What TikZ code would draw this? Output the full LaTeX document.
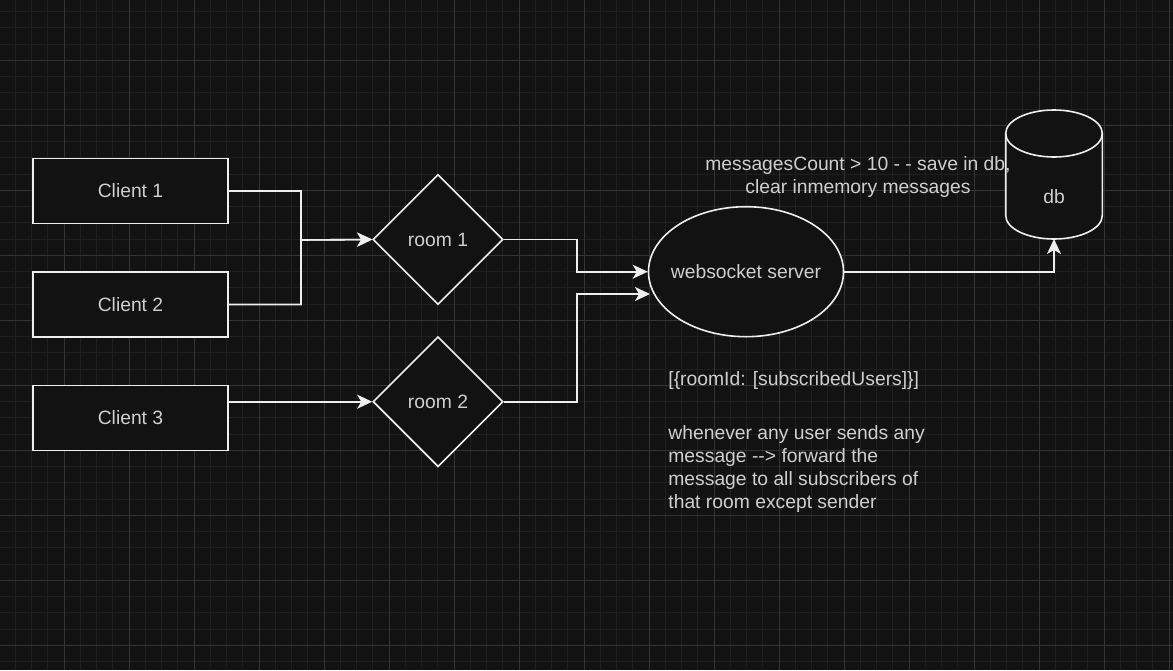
\documentclass[tikz,border=0pt]{standalone}
\usepackage{fontspec}
\setmainfont{Liberation Sans}
\usetikzlibrary{shapes.geometric,arrows.meta}
\definecolor{bgcol}{HTML}{121212}
\definecolor{gridminor}{HTML}{1F1F1F}
\definecolor{gridmajor}{HTML}{343434}
\definecolor{linecol}{HTML}{EEEEEE}
\definecolor{textcol}{HTML}{CFCFCF}

\begin{document}
\begin{tikzpicture}[x=0.5pt,y=-0.5pt,
	every node/.style={font=\fontsize{9.65}{11.5}\selectfont,text=textcol},
	box/.style={rectangle,draw=linecol,fill=bgcol,line width=0.8pt,minimum width=97.5pt,minimum height=32.5pt,inner sep=0pt},
	room/.style={diamond,draw=linecol,fill=bgcol,line width=0.8pt,minimum width=65pt,minimum height=65pt,inner sep=0pt},
	conn/.style={draw=linecol,line width=0.8pt,-{Stealth[length=7.5pt,width=7pt,inset=2pt]}}]
	
	%background
	\useasboundingbox (0,0) rectangle (1173,670);
	\fill[bgcol] (0,0) rectangle (1173,670);
	\foreach \i in {1,...,72} \draw[gridminor,line width=0.5pt] ({-1+16.25*\i},0) -- ({-1+16.25*\i},670);
	\foreach \j in {1,...,41} \draw[gridminor,line width=0.5pt] (0,{-4.7+16.25*\j}) -- (1173,{-4.7+16.25*\j});
	\foreach \i in {1,...,18} \draw[gridmajor,line width=0.5pt] ({-1+65*\i},0) -- ({-1+65*\i},670);
	\foreach \j in {1,...,10} \draw[gridmajor,line width=0.5pt] (0,{-4.7+65*\j}) -- (1173,{-4.7+65*\j});
	
	%clients
	\node[box](client1) at (130.5,191) {Client 1};
	\node[box](client2) at (130.5,304.5) {Client 2};
	\node[box](client3) at (130.5,418) {Client 3};
	%rooms
	\node[room](room1) at (438,239.5) {room 1};
	\node[room](room2) at (438,401.7) {room 2};
	%server
	\node[ellipse,draw=linecol,fill=bgcol,line width=0.8pt,minimum width=97.5pt,minimum height=65pt,inner xsep=-5pt,inner ysep=0pt](ws) at (746,271.7) {websocket server};
	\coordinate (ws2) at (650,294);
	
	%db
	\filldraw[draw=linecol,fill=bgcol,line width=0.8pt] (1005.7,133.5) -- (1005.7,215.5) arc[start angle=180,end angle=0,x radius=48.3,y radius=23.5] -- (1102.3,133.5) arc[start angle=0,end angle=-180,x radius=48.3,y radius=23.5] -- cycle;
	\draw[linecol,line width=0.8pt] (1005.7,133.5) arc[start angle=180,end angle=0,x radius=48.3,y radius=23.5];
	\node(db) at (1054,197) {db};
	\coordinate (dbbot) at (1054,239);
	
	%notes
	\node[align=center,inner sep=0pt](countnote) at (858,177) {messagesCount > 10 - - save in db,\\clear inmemory messages};
	\node[anchor=west,inner sep=0pt](roomsnote) at (668,380.5) {[\{roomId: [subscribedUsers]\}]};
	\node[anchor=west,align=left,inner sep=0pt](forwardnote) at (668,469) {whenever any user sends any\\message -{}-> forward the\\message to all subscribers of\\that room except sender};
	
	%arrows
	\draw[conn] (client1.east) -| (301,240) -- (room1.west);
	\draw[conn] (client2.east) -| (301,240) -- (room1.west);
	\draw[conn] (client3.east |- room2.west) -- (room2.west);
	\draw[conn] (room1.east) -- ++(73,0) |- (ws.west);
	\draw[conn] (room2.east) -- ++(73,0) |- (ws2);
	\draw[conn] (ws.east) -| (dbbot);
\end{tikzpicture}
\end{document}
